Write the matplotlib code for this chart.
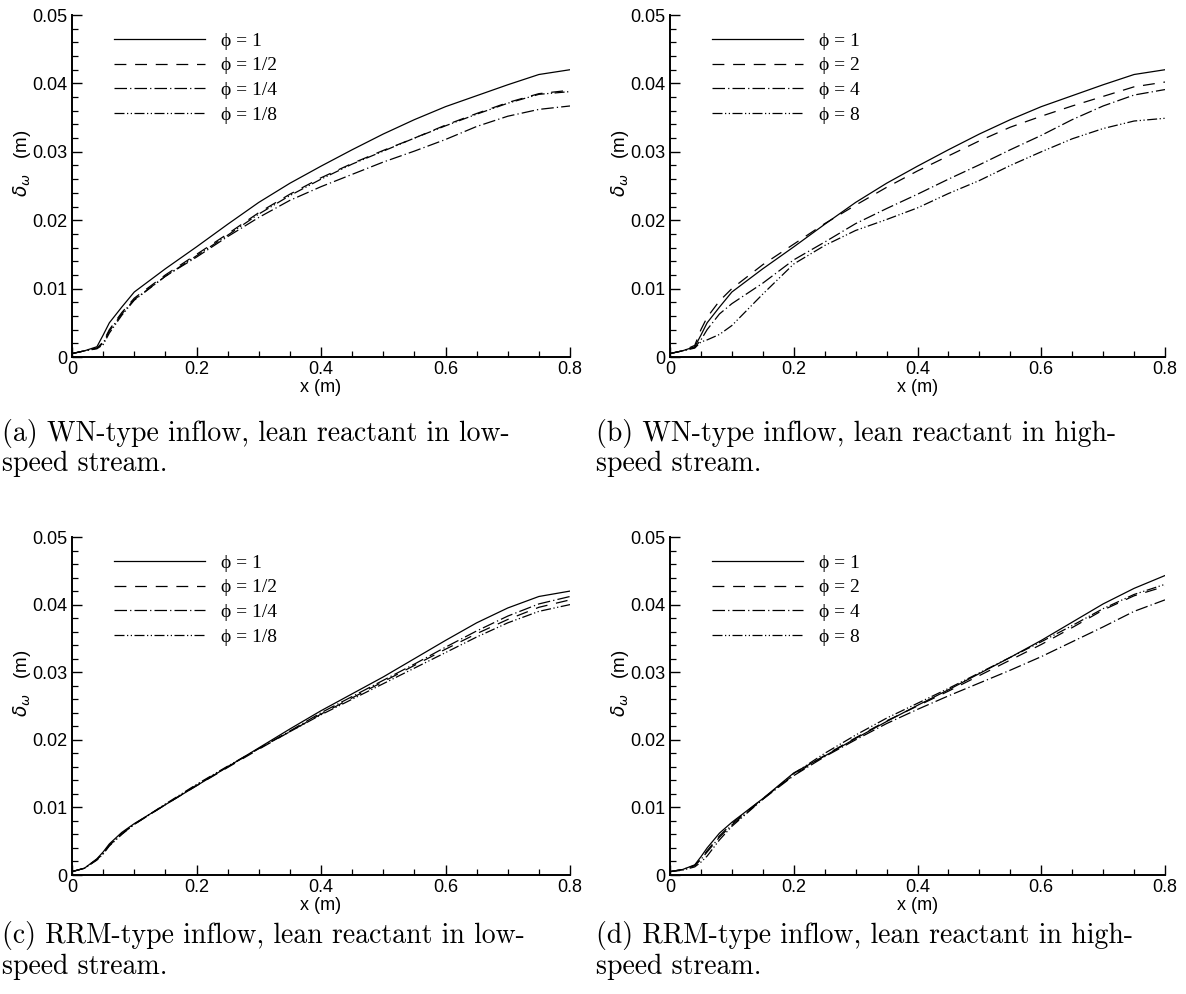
import numpy as np
import matplotlib as mpl
mpl.use("Agg")
import matplotlib.pyplot as plt
from matplotlib.ticker import MultipleLocator

plt.rcParams['font.family'] = ['Liberation Sans', 'DejaVu Sans']

# streamwise stations (m)
x = [0, .02, .04, .05, .06, .08, .1, .15, .2, .25, .3, .35, .4, .45, .5, .55, .6, .65, .7, .75, .8]

# (a) WN inflow, lean reactant in low-speed stream
a_phi1 = [.0005, .0009, .0015, .0032, .0050, .0073, .0095, .0129, .0161, .0194, .0226, .0254, .0279,
          .0303, .0326, .0347, .0366, .0382, .0398, .0413, .0420]
a_phi1_2 = [.0005, .0009, .0013, .0022, .0040, .0065, .0086, .0120, .0150, .0180, .0211, .0238, .0262,
            .0283, .0302, .0320, .0339, .0356, .0372, .0385, .0390]
a_phi1_4 = [.0005, .0009, .0013, .0020, .0038, .0063, .0084, .0118, .0146, .0176, .0204, .0229, .0249,
            .0267, .0285, .0301, .0318, .0337, .0352, .0362, .0367]
a_phi1_8 = [.0005, .0009, .0012, .0018, .0035, .0061, .0083, .0118, .0148, .0178, .0209, .0236, .0260,
            .0282, .0301, .0320, .0338, .0355, .0371, .0384, .0388]

# (b) WN inflow, lean reactant in high-speed stream
b_phi1 = a_phi1
b_phi2 = [.0005, .0009, .0017, .0040, .0058, .0082, .0100, .0135, .0165, .0195, .0222, .0248, .0272,
          .0294, .0316, .0336, .0352, .0367, .0381, .0395, .0402]
b_phi4 = [.0005, .0009, .0014, .0025, .0040, .0063, .0078, .0108, .0142, .0168, .0195, .0217, .0238,
          .0260, .0281, .0303, .0324, .0347, .0367, .0383, .0391]
b_phi8 = [.0005, .0009, .0013, .0022, .0025, .0033, .0046, .0092, .0136, .0163, .0185, .0201, .0218,
          .0239, .0258, .0280, .0300, .0319, .0334, .0345, .0349]

# (c) RRM inflow, lean reactant in low-speed stream
c_phi1 = [.0005, .0010, .0024, .0034, .0046, .0063, .0076, .0104, .0132, .0160, .0188, .0216, .0243,
          .0268, .0293, .0320, .0347, .0373, .0395, .0412, .0420]
c_phi1_2 = [.0005, .0010, .0023, .0032, .0044, .0061, .0075, .0104, .0132, .0159, .0186, .0212, .0238,
            .0262, .0286, .0310, .0334, .0357, .0378, .0396, .0407]
c_phi1_4 = [.0005, .0010, .0023, .0032, .0044, .0061, .0075, .0104, .0133, .0160, .0187, .0213, .0240,
            .0264, .0288, .0312, .0337, .0361, .0383, .0401, .0412]
c_phi1_8 = [.0005, .0010, .0022, .0031, .0043, .0060, .0075, .0105, .0134, .0161, .0187, .0212, .0237,
            .0260, .0283, .0306, .0329, .0352, .0373, .0390, .0400]

# (d) RRM inflow, lean reactant in high-speed stream
d_phi1 = [.0005, .0008, .0015, .0027, .0040, .0062, .0078, .0113, .0151, .0176, .0202, .0227, .0251,
          .0274, .0298, .0322, .0347, .0374, .0401, .0424, .0443]
d_phi2 = [.0005, .0008, .0014, .0024, .0036, .0058, .0076, .0113, .0148, .0177, .0203, .0228, .0250,
          .0272, .0295, .0318, .0341, .0366, .0392, .0413, .0427]
d_phi4 = [.0005, .0008, .0014, .0023, .0034, .0056, .0074, .0112, .0147, .0175, .0200, .0224, .0245,
          .0265, .0284, .0303, .0323, .0345, .0367, .0390, .0407]
d_phi8 = [.0005, .0007, .0012, .0019, .0028, .0052, .0072, .0112, .0150, .0180, .0207, .0232, .0254,
          .0276, .0299, .0322, .0345, .0369, .0394, .0415, .0430]

lean_labels = ['\u03d5 = 1', '\u03d5 = 1/2', '\u03d5 = 1/4', '\u03d5 = 1/8']
rich_labels = ['\u03d5 = 1', '\u03d5 = 2', '\u03d5 = 4', '\u03d5 = 8']

captions = [("(a) WN-type inflow, lean reactant in low-", "speed stream."),
            ("(b) WN-type inflow, lean reactant in high-", "speed stream."),
            ("(c) RRM-type inflow, lean reactant in low-", "speed stream."),
            ("(d) RRM-type inflow, lean reactant in high-", "speed stream.")]

styles = ['-', (0, (9.5, 7)), (0, (10, 2.5, 1, 2.5)), (0, (8, 2, 1, 2, 1, 2))]

W, H = 1186, 994
fig = plt.figure(figsize=(W / 100, H / 100), dpi=100)


def panel(rect, series, labels):
    l, t, r, b = rect
    ax = fig.add_axes([l / W, 1 - b / H, (r - l) / W, (b - t) / H])
    for y, lab, ls in zip(series, labels, styles):
        ax.plot(x, y, color='k', lw=0.9, ls=ls, label=lab)
    ax.set_xlim(0, 0.8)
    ax.set_ylim(0, 0.05)
    ax.xaxis.set_minor_locator(MultipleLocator(0.05))
    ax.yaxis.set_minor_locator(MultipleLocator(0.002))
    ax.set_xticks([0, .2, .4, .6, .8])
    ax.set_xticklabels(['0', '0.2', '0.4', '0.6', '0.8'])
    ax.set_yticks([0, .01, .02, .03, .04, .05])
    ax.set_yticklabels(['0', '0.01', '0.02', '0.03', '0.04', '0.05'])
    for s in ['top', 'right']:
        ax.spines[s].set_visible(False)
    for s in ['left', 'bottom']:
        ax.spines[s].set_linewidth(1.4)
    ax.tick_params(which='major', direction='in', length=7, width=1.0, labelsize=13, pad=3)
    ax.tick_params(which='minor', direction='in', length=4, width=0.9)
    ax.set_xlabel('x (m)', fontsize=13)
    ax.xaxis.set_label_coords(0.5, -31 / (b - t))
    ax.xaxis.label.set_va('center')
    ax.set_ylabel(r'$\delta_\omega$   (m)', fontsize=13.5)
    ax.yaxis.set_label_coords(-50 / (r - l), 0.567)
    ax.yaxis.label.set_va('center')
    ax.legend(loc='upper left', bbox_to_anchor=(42 / (r - l), 1 - 17 / (b - t)),
              frameon=False, handlelength=4.7, handletextpad=0.8, labelspacing=0.37,
              borderpad=0, borderaxespad=0,
              prop={'family': ['Liberation Serif', 'DejaVu Serif'], 'size': 14})
    return ax


panel((72, 15, 570, 357), [a_phi1, a_phi1_2, a_phi1_4, a_phi1_8], lean_labels)
panel((670, 15, 1165, 357), [b_phi1, b_phi2, b_phi4, b_phi8], rich_labels)
panel((72, 537, 570, 875), [c_phi1, c_phi1_2, c_phi1_4, c_phi1_8], lean_labels)
panel((670, 537, 1165, 875), [d_phi1, d_phi2, d_phi4, d_phi8], rich_labels)

cap_pos = [(2, 433), (596, 433), (2, 936), (596, 936)]
for (l1, l2), (cx, cy) in zip(captions, cap_pos):
    fig.text(cx / W, 1 - cy / H, l1, fontfamily='cmr10', fontsize=20, va='center', ha='left')
    fig.text(cx / W, 1 - (cy + 31) / H, l2, fontfamily='cmr10', fontsize=20, va='center', ha='left')

fig.savefig('out.png', dpi=100)
